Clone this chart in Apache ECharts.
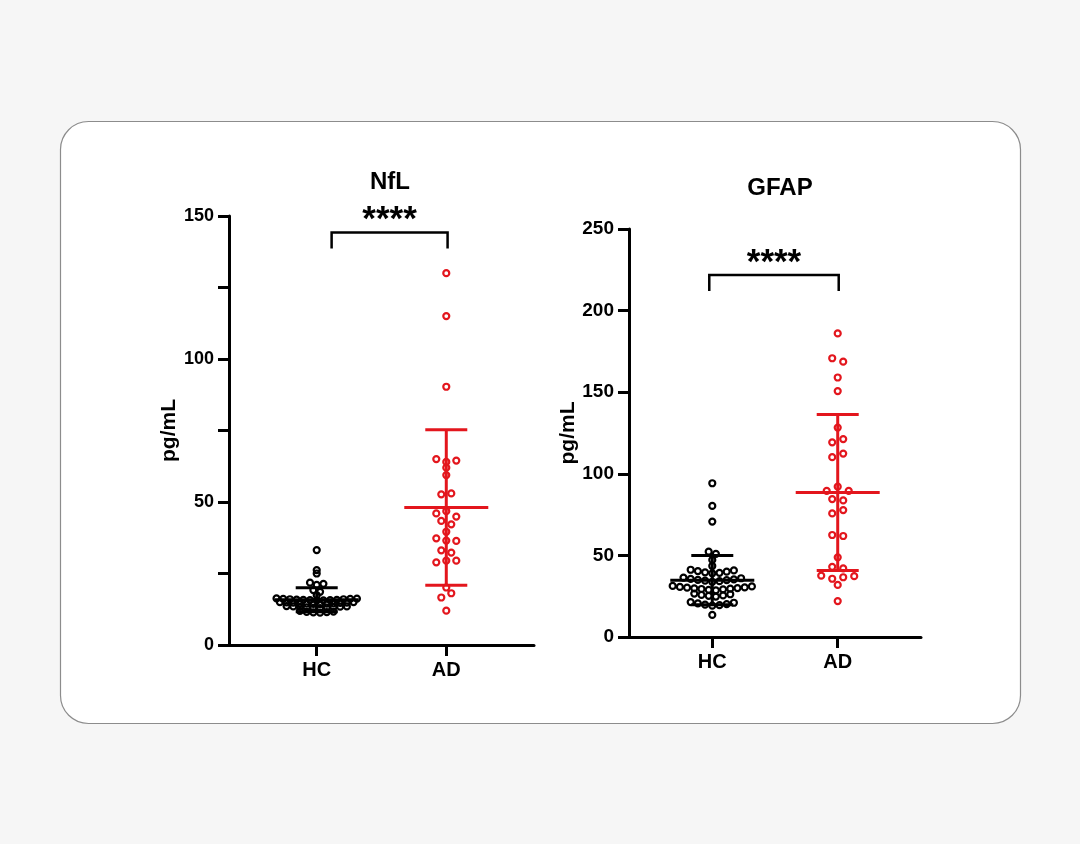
<!DOCTYPE html>
<html>
<head>
<meta charset="utf-8">
<script src="https://cdn.jsdelivr.net/npm/echarts@6/dist/echarts.min.js"></script>
<style>
html,body{margin:0;padding:0;background:#f6f6f6;}
#main{width:1080px;height:844px;}
</style>
</head>
<body>
<div id="main"></div>
<script>
// ---------- DATA ----------
const categories = ['HC', 'AD'];
const nflTicks = [0, 50, 100, 150];
const gfapTicks = [0, 50, 100, 150, 200, 250];

const nflHC = [
  11.3, 11.4, 11.5, 11.6, 11.7, 11.9,
  12.9, 13.0, 13.1, 13.2, 13.3, 13.3, 13.4, 13.5, 13.5, 13.6,
  14.3, 14.4, 14.5, 14.5, 14.6, 14.6, 14.7, 14.8, 14.8, 14.9, 15.0, 15.0,
  15.5, 15.6, 15.7, 15.7, 15.8, 15.8, 15.9, 16.0, 16.0, 16.1, 16.1, 16.2, 16.3,
  17.4, 18.6, 19.2, 21.0, 21.4, 21.8, 25.0, 26.2, 33.2];
const nflAD = [130, 115, 90.3, 64.0, 64.5, 65.0, 62.0, 59.4, 53.0, 52.7,
  46.8, 44.9, 46.0, 42.2, 43.4, 39.6, 36.5, 36.4, 37.3, 32.3, 33.1,
  29.5, 29.5, 28.9, 20.1, 18.1, 16.6, 12.0];
const nflMean = [15.8, 48.1];
const nflSD = [4.2, 27.2];

const gfapHC = [
  13.5,
  19.2, 19.5, 19.8, 20.2, 20.6, 21.0, 21.4,
  24.8, 25.2, 25.5, 25.8, 26.2, 26.6,
  28.6, 28.9, 29.2, 29.4, 29.6, 29.8, 30.0, 30.2, 30.4, 30.7, 31.0, 31.3,
  33.8, 34.2, 34.5, 34.8, 35.0, 35.3, 35.6, 36.0, 36.4,
  39.0, 39.3, 39.6, 40.0, 40.4, 40.8, 41.2,
  43.5, 47.2, 50.9, 52.3, 70.7, 80.3, 94.2];
const gfapAD = [186, 168.7, 170.8, 159, 150.7, 128.3, 121.3, 119.3, 112.4, 110.2,
  92.1, 89.5, 89.5, 83.7, 84.5, 77.8, 75.7, 61.9, 62.5, 48.8, 42.0, 43.0,
  36.6, 35.7, 37.3, 37.6, 31.9, 22.0];
const gfapMean = [34.8, 88.6];
const gfapSD = [15.1, 47.8];

const sigLabel = '****';

// ---------- LAYOUT ----------
const FONT = 'Liberation Sans, Arial, sans-serif';
const BLACK = '#000000';
const RED = '#e3161d';
const G1 = {left: 229, top: 216, width: 305, height: 429, xmin: 0.323, xmax: 2.677, ymax: 150};
const G2 = {left: 629, top: 229, width: 292, height: 408, xmin: 0.336, xmax: 2.664, ymax: 250};

// column-scatter (swarm) layout: values grouped into rows, spread side by side
function rowsLayout(vals, cx, g, h, s) {
  const kx = g.width / (g.xmax - g.xmin);
  const ky = g.height / g.ymax;
  const idx = vals.map((v, i) => i).sort((a, b) => vals[a] - vals[b]);
  const rows = [];
  let cur = null;
  for (const i of idx) {
    if (cur && (vals[i] - vals[cur[0]]) * ky < h) cur.push(i);
    else { cur = [i]; rows.push(cur); }
  }
  const out = new Array(vals.length);
  rows.forEach(row => {
    const n = row.length;
    const offs = [];
    for (let k = 0; k < n; k++) offs.push(k - (n - 1) / 2);
    offs.sort((a, b) => Math.abs(a) - Math.abs(b) || b - a);
    const members = row.slice().sort((a, b) => a - b);
    members.forEach((i, j) => { out[i] = [cx + offs[j] * s / kx, vals[i]]; });
  });
  return out;
}

function scatter(vals, cx, g, h, s, color, gi) {
  return {
    type: 'scatter', xAxisIndex: gi, yAxisIndex: gi,
    data: rowsLayout(vals, cx, g, h, s),
    symbol: 'circle', symbolSize: 6,
    itemStyle: {color: 'rgba(255,255,255,0)', borderColor: color, borderWidth: 2.2, opacity: 1},
    z: 3, silent: true
  };
}

function errorBars(means, sds, gi) {
  return {
    type: 'custom', xAxisIndex: gi, yAxisIndex: gi, z: 5, silent: true,
    data: means.map((m, i) => [i + 1, m, sds[i]]),
    renderItem: function (params, api) {
      const x = api.value(0), m = api.value(1), sd = api.value(2);
      const c = api.coord([x, m]);
      const t = api.coord([x, m + sd]);
      const b = api.coord([x, m - sd]);
      const col = params.dataIndex === 0 ? BLACK : RED;
      const st = {stroke: col, lineWidth: 3};
      return {type: 'group', children: [
        {type: 'line', shape: {x1: c[0] - 42, y1: c[1], x2: c[0] + 42, y2: c[1]}, style: st},
        {type: 'line', shape: {x1: c[0], y1: t[1], x2: c[0], y2: b[1]}, style: st},
        {type: 'line', shape: {x1: c[0] - 21, y1: t[1], x2: c[0] + 21, y2: t[1]}, style: st},
        {type: 'line', shape: {x1: c[0] - 21, y1: b[1], x2: c[0] + 21, y2: b[1]}, style: st}
      ]};
    }
  };
}

function bracket(x1, x2, yh, gi) {
  return {
    type: 'custom', xAxisIndex: gi, yAxisIndex: gi, z: 5, silent: true,
    data: [[x1, x2, yh]],
    renderItem: function (params, api) {
      const a = api.coord([api.value(0), api.value(2)]);
      const b = api.coord([api.value(1), api.value(2)]);
      return {type: 'group', children: [
        {type: 'polyline', shape: {points: [[a[0], a[1] + 16], [a[0], a[1]], [b[0], b[1]], [b[0], b[1] + 16]]},
          style: {stroke: BLACK, lineWidth: 2.5, fill: null}},
        {type: 'text', x: (a[0] + b[0]) / 2, y: a[1] - 12,
          style: {text: sigLabel, fill: BLACK, font: 'bold 35px ' + FONT, align: 'center', verticalAlign: 'middle'}}
      ]};
    }
  };
}

function xAxisCfg(g, gi) {
  return {
    type: 'value', gridIndex: gi, min: g.xmin, max: g.xmax,
    axisLine: {show: true, lineStyle: {color: BLACK, width: 3}},
    axisTick: {show: true, customValues: [1, 2], length: 11, lineStyle: {color: BLACK, width: 3}},
    axisLabel: {customValues: [1, 2], formatter: v => categories[Math.round(v) - 1] || '',
      color: BLACK, fontSize: 20, fontWeight: 'bold', fontFamily: FONT, margin: 15},
    splitLine: {show: false}
  };
}

function yAxisCfg(g, gi, ticks, minor, labelSize, gap) {
  return {
    type: 'value', gridIndex: gi, min: ticks[0], max: ticks[ticks.length - 1], interval: ticks[1] - ticks[0],
    axisLine: {show: true, lineStyle: {color: BLACK, width: 3}},
    axisTick: {show: true, length: 11, lineStyle: {color: BLACK, width: 3}},
    minorTick: {show: minor, splitNumber: 2, length: 11, lineStyle: {color: BLACK, width: 3}},
    axisLabel: {color: BLACK, fontSize: labelSize, fontWeight: 'bold', fontFamily: FONT, margin: 15},
    splitLine: {show: false},
    name: 'pg/mL', nameLocation: 'middle', nameGap: gap,
    nameTextStyle: {color: BLACK, fontSize: 21, fontWeight: 'bold', fontFamily: FONT}
  };
}

const chart = echarts.init(document.getElementById('main'));
chart.setOption({
  backgroundColor: '#f6f6f6',
  animation: false,
  graphic: [{
    type: 'rect', z: -100, silent: true,
    shape: {x: 60.5, y: 121.5, width: 960, height: 602, r: 28},
    style: {fill: '#ffffff', stroke: '#8c8c8c', lineWidth: 1.2}
  }],
  title: [
    {text: 'NfL', left: 385, top: 165, textAlign: 'center',
      textStyle: {fontSize: 24, fontWeight: 'bold', color: BLACK, fontFamily: FONT}},
    {text: 'GFAP', left: 775, top: 171, textAlign: 'center',
      textStyle: {fontSize: 24, fontWeight: 'bold', color: BLACK, fontFamily: FONT}}
  ],
  grid: [
    {left: G1.left, top: G1.top, width: G1.width, height: G1.height},
    {left: G2.left, top: G2.top, width: G2.width, height: G2.height}
  ],
  xAxis: [xAxisCfg(G1, 0), xAxisCfg(G2, 1)],
  yAxis: [yAxisCfg(G1, 0, nflTicks, true, 18, 46), yAxisCfg(G2, 1, gfapTicks, false, 19, 49)],
  series: [
    scatter(nflHC, 1, G1, 3, 6.7, BLACK, 0),
    scatter(nflAD, 2, G1, 5.5, 10, RED, 0),
    scatter(gfapHC, 1, G2, 5, 7.2, BLACK, 1),
    scatter(gfapAD, 2, G2, 5, 11, RED, 1),
    errorBars(nflMean, nflSD, 0),
    errorBars(gfapMean, gfapSD, 1),
    bracket(1.115, 2.01, 144.2, 0),
    bracket(0.976, 2.008, 221.8, 1)
  ]
});
</script>
</body>
</html>
